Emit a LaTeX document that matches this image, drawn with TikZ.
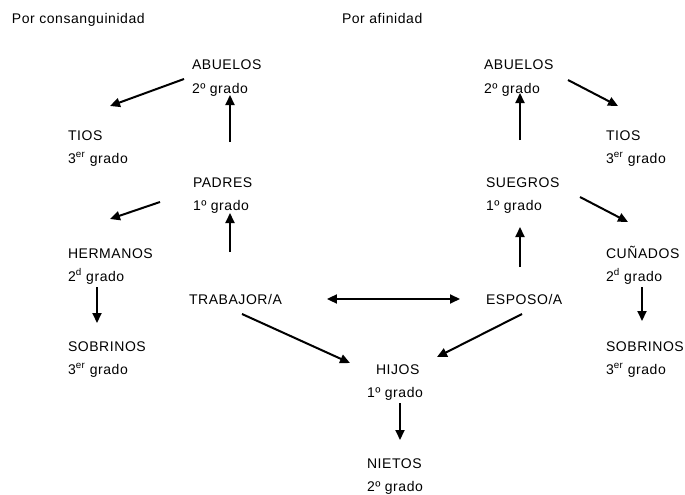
\documentclass[tikz,border=0pt]{standalone}
\usepackage{fontspec}
\setmainfont[LetterSpace=4]{Liberation Sans}
\usetikzlibrary{arrows.meta}

\begin{document}
\begin{tikzpicture}[x=1pt, y=-1pt,
    lbl/.style={anchor=base west, inner sep=0pt, outer sep=0pt, font=\fontsize{14}{16}\selectfont},
    arr/.style={-{Triangle[length=10pt, width=9pt]}, line width=2pt, black},
    dblarr/.style={{Triangle[length=10pt, width=9pt]}-{Triangle[length=10pt, width=9pt]}, line width=2pt, black}]
    \useasboundingbox (0,0) rectangle (685,495);

    % 1. Titles
    \node[lbl] (consang) at (12,24) {Por consanguinidad};
    \node[lbl] (afin) at (342,24) {Por afinidad};

    % 2. Left side (consanguinidad)
    \node[lbl] (abuI) at (192,70) {ABUELOS};
    \node[lbl] (abuIg) at (192,93) {2º grado};
    \node[lbl] (tioI) at (68,140) {TIOS};
    \node[lbl] (tioIg) at (68,163) {3\textsuperscript{er} grado};
    \node[lbl] (padres) at (193,187) {PADRES};
    \node[lbl] (padresg) at (193,210) {1º grado};
    \node[lbl] (herm) at (68,258) {HERMANOS};
    \node[lbl] (hermg) at (68,281) {2\textsuperscript{d} grado};
    \node[lbl] (trab) at (189,304) {TRABAJOR/A};
    \node[lbl] (sobI) at (68,351) {SOBRINOS};
    \node[lbl] (sobIg) at (68,374) {3\textsuperscript{er} grado};

    % 3. Right side (afinidad)
    \node[lbl] (abuD) at (484,70) {ABUELOS};
    \node[lbl] (abuDg) at (484,93) {2º grado};
    \node[lbl] (tioD) at (606,140) {TIOS};
    \node[lbl] (tioDg) at (606,163) {3\textsuperscript{er} grado};
    \node[lbl] (suegros) at (486,187) {SUEGROS};
    \node[lbl] (suegrosg) at (486,210) {1º grado};
    \node[lbl] (cun) at (606,258) {CUÑADOS};
    \node[lbl] (cung) at (606,281) {2\textsuperscript{d} grado};
    \node[lbl] (esp) at (486,304) {ESPOSO/A};
    \node[lbl] (sobD) at (606,351) {SOBRINOS};
    \node[lbl] (sobDg) at (606,374) {3\textsuperscript{er} grado};

    % 4. Descendants
    \node[lbl] (hijos) at (376,374) {HIJOS};
    \node[lbl] (hijosg) at (367,397) {1º grado};
    \node[lbl] (nietos) at (367,468) {NIETOS};
    \node[lbl] (nietosg) at (367,491) {2º grado};

    % 5. Arrows, left side
    \draw[arr] ([shift={(-8,9)}]abuI.base west) -- ([shift={(42,-34)}]tioI.base west);
    \draw[arr] ([shift={(37,-45)}]padres.base west) -- ([shift={(38,2)}]abuIg.base west);
    \draw[arr] ([shift={(-33,15)}]padres.base west) -- ([shift={(42,-39)}]herm.base west);
    \draw[arr] ([shift={(41,-52)}]trab.base west) -- ([shift={(37,3)}]padresg.base west);
    \draw[arr] ([shift={(29,6)}]hermg.base west) -- ([shift={(29,-28)}]sobI.base west);
    \draw[arr] ([shift={(53,10)}]trab.base west) -- ([shift={(-26,-11)}]hijos.base west);

    % 6. Trabajador <-> esposo
    \draw[dblarr] ([xshift=45pt]trab.east) -- ([xshift=-26pt]esp.west);

    % 7. Arrows, right side
    \draw[arr] ([shift={(36,10)}]esp.base west) -- ([shift={(61,-17)}]hijos.base west);
    \draw[arr] ([shift={(34,-37)}]esp.base west) -- ([shift={(34,17)}]suegrosg.base west);
    \draw[arr] ([shift={(34,-47)}]suegros.base west) -- ([shift={(36,0)}]abuDg.base west);
    \draw[arr] ([shift={(84,10)}]abuD.base west) -- ([shift={(12,-34)}]tioD.base west);
    \draw[arr] ([shift={(94,10)}]suegros.base west) -- ([shift={(22,-36)}]cun.base west);
    \draw[arr] ([shift={(36,6)}]cung.base west) -- ([shift={(36,-30)}]sobD.base west);

    % 8. Hijos -> nietos
    \draw[arr] ([shift={(33,6)}]hijosg.base west) -- ([shift={(33,-28)}]nietos.base west);

\end{tikzpicture}
\end{document}
